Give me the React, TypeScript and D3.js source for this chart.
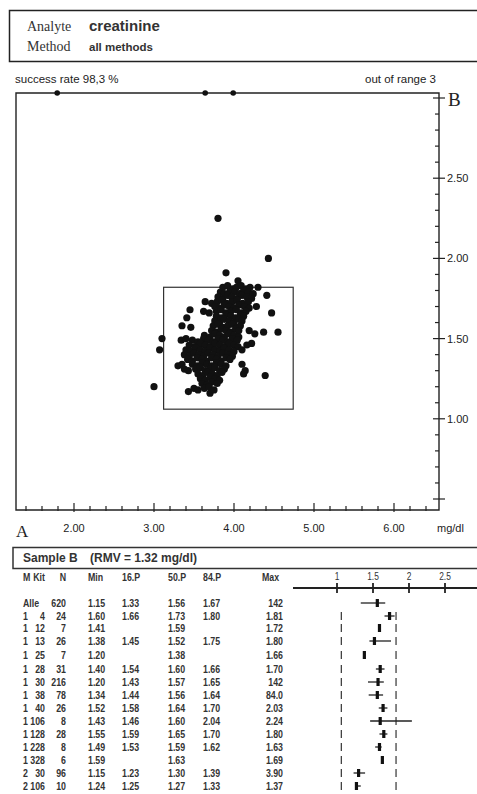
import React, { useEffect, useRef } from 'react';
import * as d3 from 'd3';

// out-of-range results (B above the plot), A values only
const outOfRangeA = [1.79, 3.64, 3.99];

// lab results: [sample A, sample B] in mg/dl
const resultsAB: [number, number][] = [
  [3.80, 2.25], [3.90, 1.91], [4.05, 1.86], [4.43, 2.00], [3.10, 1.50], [3.07, 1.43], [3.00, 1.20],
  [4.39, 1.27], [4.55, 1.54], [4.47, 1.66], [4.41, 1.77], [3.45, 1.68], [3.41, 1.63], [3.35, 1.58],
  [3.46, 1.57], [3.64, 1.73], [3.70, 1.16], [3.43, 1.17], [3.30, 1.33], [3.35, 1.34], [3.38, 1.31],
  [3.86, 1.82], [3.92, 1.83], [3.98, 1.81], [4.03, 1.82], [4.09, 1.83], [4.15, 1.81], [4.20, 1.82], [4.30, 1.82],
  [3.83, 1.79], [3.88, 1.78], [3.95, 1.80], [4.01, 1.79], [4.07, 1.78], [4.12, 1.80], [4.18, 1.79], [4.24, 1.78],
  [3.80, 1.76], [3.86, 1.75], [3.92, 1.77], [3.97, 1.76], [4.04, 1.75], [4.10, 1.77], [4.16, 1.76], [4.22, 1.75],
  [3.72, 1.72], [3.79, 1.73], [3.85, 1.74], [3.91, 1.72], [3.98, 1.73], [4.04, 1.74], [4.11, 1.72], [4.18, 1.73],
  [3.76, 1.70], [3.82, 1.69], [3.88, 1.71], [3.94, 1.70], [4.00, 1.69], [4.06, 1.71], [4.13, 1.70], [4.19, 1.69], [4.28, 1.70],
  [3.62, 1.67], [3.69, 1.66], [3.78, 1.67], [3.84, 1.68], [3.90, 1.66], [3.96, 1.67], [4.03, 1.68], [4.09, 1.66], [4.15, 1.67],
  [3.78, 1.64], [3.84, 1.63], [3.90, 1.65], [3.96, 1.64], [4.02, 1.63], [4.08, 1.65], [4.12, 1.64],
  [3.76, 1.61], [3.82, 1.60], [3.88, 1.62], [3.94, 1.61], [4.00, 1.60], [4.06, 1.62], [4.10, 1.61],
  [3.74, 1.58], [3.80, 1.59], [3.86, 1.57], [3.92, 1.58], [3.98, 1.59], [4.04, 1.57], [4.08, 1.58],
  [3.72, 1.55], [3.78, 1.54], [3.84, 1.56], [3.90, 1.55], [3.96, 1.54], [4.02, 1.56], [4.06, 1.55], [4.19, 1.55], [4.26, 1.53], [4.37, 1.54],
  [3.63, 1.52], [3.70, 1.51], [3.76, 1.53], [3.82, 1.52], [3.88, 1.51], [3.94, 1.53], [4.00, 1.52], [4.06, 1.51], [4.22, 1.47],
  [3.34, 1.49], [3.40, 1.50], [3.48, 1.49], [3.55, 1.48], [3.62, 1.50], [3.68, 1.49], [3.74, 1.48], [3.80, 1.50], [3.86, 1.49], [3.92, 1.48], [3.98, 1.50], [4.04, 1.49],
  [3.44, 1.46], [3.51, 1.45], [3.58, 1.47], [3.64, 1.46], [3.70, 1.45], [3.76, 1.47], [3.82, 1.46], [3.88, 1.45], [3.94, 1.47], [4.00, 1.46], [4.05, 1.45], [4.16, 1.46],
  [3.40, 1.43], [3.46, 1.42], [3.52, 1.44], [3.58, 1.43], [3.64, 1.42], [3.70, 1.44], [3.76, 1.43], [3.82, 1.42], [3.88, 1.44], [3.94, 1.43], [4.00, 1.42], [4.10, 1.43],
  [3.38, 1.40], [3.44, 1.39], [3.50, 1.41], [3.56, 1.40], [3.62, 1.39], [3.68, 1.41], [3.74, 1.40], [3.80, 1.39], [3.86, 1.41], [3.92, 1.40], [3.98, 1.39],
  [3.42, 1.37], [3.48, 1.36], [3.54, 1.38], [3.60, 1.37], [3.66, 1.36], [3.72, 1.38], [3.78, 1.37], [3.84, 1.36], [3.90, 1.38], [3.95, 1.37],
  [3.48, 1.34], [3.54, 1.33], [3.60, 1.35], [3.66, 1.34], [3.72, 1.33], [3.78, 1.35], [3.84, 1.34], [3.90, 1.33], [4.10, 1.34],
  [3.43, 1.30], [3.52, 1.31], [3.58, 1.32], [3.64, 1.30], [3.70, 1.31], [3.76, 1.32], [3.82, 1.30], [3.88, 1.31], [4.14, 1.30],
  [3.55, 1.28], [3.61, 1.27], [3.67, 1.29], [3.73, 1.28], [3.79, 1.27], [3.85, 1.29], [4.12, 1.28],
  [3.58, 1.25], [3.64, 1.24], [3.70, 1.26], [3.76, 1.25], [3.82, 1.24],
  [3.60, 1.22], [3.66, 1.21], [3.72, 1.23], [3.79, 1.22],
  [3.50, 1.19], [3.55, 1.18], [3.63, 1.19], [3.69, 1.20], [3.75, 1.18],
];

// target range box
const limitsA = [3.12, 4.74];
const limitsB = [1.06, 1.82];

// table for sample B
const methodCol = ['Alle', '1', '1', '1', '1', '1', '1', '1', '1', '1', '1', '1', '1', '2', '2'];
const kitCol = [null, 4, 12, 13, 25, 28, 30, 38, 40, 106, 128, 228, 328, 30, 106];
const nCol = [620, 24, 7, 26, 7, 31, 216, 78, 26, 8, 28, 8, 6, 96, 10];
const minCol = [1.15, 1.60, 1.41, 1.38, 1.20, 1.40, 1.20, 1.34, 1.52, 1.43, 1.55, 1.49, 1.59, 1.15, 1.24];
const p16Col = [1.33, 1.66, null, 1.45, null, 1.54, 1.43, 1.44, 1.58, 1.46, 1.59, 1.53, null, 1.23, 1.25];
const p50Col = [1.56, 1.73, 1.59, 1.52, 1.38, 1.60, 1.57, 1.56, 1.64, 1.60, 1.65, 1.59, 1.63, 1.30, 1.27];
const p84Col = [1.67, 1.80, null, 1.75, null, 1.66, 1.65, 1.64, 1.70, 2.04, 1.70, 1.62, null, 1.39, 1.33];
const maxCol = [142, 1.81, 1.72, 1.80, 1.66, 1.70, 142, 84.0, 2.03, 2.24, 1.80, 1.63, 1.69, 3.90, 1.37];
const forestTicks = [1, 1.5, 2, 2.5];

const SERIF = '"Liberation Serif", "Times New Roman", serif';
const SANS = '"Liberation Sans", Arial, sans-serif';

const fmt = (v: number) => (v >= 100 ? d3.format('.0f')(v) : v >= 10 ? d3.format('.1f')(v) : d3.format('.2f')(v));

export default function App() {
  const svgRef = useRef<SVGSVGElement>(null);

  useEffect(() => {
    const svg = d3.select(svgRef.current);
    svg.selectAll('*').remove();

    // header box
    svg.append('rect').attr('x', 9.5).attr('y', 10.5).attr('width', 480).attr('height', 51)
      .attr('fill', 'none').attr('stroke', '#222').attr('stroke-width', 1.5);
    svg.append('text').attr('x', 27).attr('y', 31).style('font-family', SERIF).style('font-size', '14px').attr('fill', '#333').text('Analyte');
    svg.append('text').attr('x', 27).attr('y', 51).style('font-family', SERIF).style('font-size', '14px').attr('fill', '#333').text('Method');
    svg.append('text').attr('x', 89).attr('y', 31).style('font-family', SANS).style('font-size', '15px').style('font-weight', 'bold').attr('fill', '#333').text('creatinine');
    svg.append('text').attr('x', 89).attr('y', 51).style('font-family', SANS).style('font-size', '11.5px').style('font-weight', 'bold').attr('fill', '#333').text('all methods');

    svg.append('text').attr('x', 15).attr('y', 83).style('font-family', SANS).style('font-size', '11.5px').attr('fill', '#222').text('success rate 98,3 %');
    svg.append('text').attr('x', 436).attr('y', 83).attr('text-anchor', 'end').style('font-family', SANS).style('font-size', '11.5px').attr('fill', '#222').text('out of range 3');

    // youden plot
    const left = 16, right = 439, top = 93, bottom = 510;
    const x = d3.scaleLinear().domain([2, 6]).range([74, 394]);
    const y = d3.scaleLinear().domain([0.5, 3]).range([499, 98]);

    const plot = svg.append('g');
    plot.append('path')
      .attr('d', `M${left},${top}H${right}V${bottom}H${left}Z`)
      .attr('fill', 'none').attr('stroke', '#222').attr('stroke-width', 1.4);

    // x ticks
    const xMinor = d3.range(1.4, 6.41, 0.2);
    xMinor.forEach((v) => {
      const major = Math.abs(v - Math.round(v)) < 0.01;
      plot.append('line').attr('x1', x(v)).attr('x2', x(v))
        .attr('y1', bottom - (major ? 7 : 4)).attr('y2', bottom + (major ? 2 : 1))
        .attr('stroke', '#222').attr('stroke-width', 1.2);
    });
    [2, 3, 4, 5, 6].forEach((v) => {
      plot.append('text').attr('x', x(v)).attr('y', 532).attr('text-anchor', 'middle')
        .style('font-family', SANS).style('font-size', '11px').attr('fill', '#222').text(d3.format('.2f')(v));
    });
    plot.append('text').attr('x', 16).attr('y', 537).style('font-family', SERIF).style('font-size', '17px').attr('fill', '#222').text('A');
    plot.append('text').attr('x', 437).attr('y', 532).style('font-family', SANS).style('font-size', '11px').attr('fill', '#222').text('mg/dl');

    // y ticks
    const yMinor = d3.range(0.5, 3.01, 0.1);
    yMinor.forEach((v) => {
      const major = Math.abs(v * 2 - Math.round(v * 2)) < 0.01;
      plot.append('line').attr('y1', y(v)).attr('y2', y(v))
        .attr('x1', right - (major ? 6 : 4)).attr('x2', right + (major ? 6 : 0))
        .attr('stroke', '#222').attr('stroke-width', 1.2);
    });
    [1, 1.5, 2, 2.5].forEach((v) => {
      plot.append('text').attr('x', 447).attr('y', y(v) + 4)
        .style('font-family', SANS).style('font-size', '11px').attr('fill', '#222').text(d3.format('.2f')(v));
    });
    plot.append('text').attr('x', 448).attr('y', y(3) + 8).style('font-family', SERIF).style('font-size', '19px').attr('fill', '#222').text('B');

    // limits box
    plot.append('rect')
      .attr('x', x(limitsA[0])).attr('y', y(limitsB[1]))
      .attr('width', x(limitsA[1]) - x(limitsA[0])).attr('height', y(limitsB[0]) - y(limitsB[1]))
      .attr('fill', 'none').attr('stroke', '#333').attr('stroke-width', 1.2);

    plot.append('g').selectAll('circle').data(resultsAB).enter().append('circle')
      .attr('cx', (d) => x(d[0])).attr('cy', (d) => y(d[1])).attr('r', 3.6).attr('fill', '#111');

    plot.append('g').selectAll('circle').data(outOfRangeA).enter().append('circle')
      .attr('cx', (d) => x(d)).attr('cy', top).attr('r', 2.8).attr('fill', '#111');

    // sample B table
    svg.append('rect').attr('x', 13).attr('y', 547.5).attr('width', 480).attr('height', 21)
      .attr('fill', 'none').attr('stroke', '#333').attr('stroke-width', 1.5);
    svg.append('text').attr('x', 23).attr('y', 562).style('font-family', SANS).style('font-size', '12px').style('font-weight', 'bold').attr('fill', '#333').text('Sample B');
    svg.append('text').attr('x', 90).attr('y', 562).style('font-family', SANS).style('font-size', '12px').style('font-weight', 'bold').attr('fill', '#333').text('(RMV = 1.32 mg/dl)');

    const tbl = svg.append('g').style('font-family', SANS).style('font-size', '11px').style('font-weight', 'bold').attr('fill', '#333');
    // narrow type: squeeze each text horizontally around its anchor
    const cell = (tx: number, ty: number, t: string, anchor = 'start') => {
      tbl.append('text').attr('transform', `translate(${tx},${ty}) scale(0.8,1)`)
        .attr('text-anchor', anchor).text(t);
    };
    const headY = 581;
    const heads: [string, number, string][] = [
      ['M', 23, 'start'], ['Kit', 45, 'end'], ['N', 66, 'end'], ['Min', 88, 'start'],
      ['16.P', 122, 'start'], ['50.P', 168, 'start'], ['84.P', 203, 'start'], ['Max', 262, 'start'],
    ];
    heads.forEach(([t, hx, anchor]) => cell(hx, headY, t, anchor));

    const rowY = [607, 620, 632, 645, 659, 673, 686, 699, 712, 725, 738, 751, 764, 777, 790];
    const fx = d3.scaleLinear().domain([1, 2.5]).range([337, 445]);

    methodCol.forEach((m, i) => {
      const ry = rowY[i];
      cell(23, ry, m);
      if (kitCol[i] !== null) cell(45, ry, String(kitCol[i]), 'end');
      cell(66, ry, String(nCol[i]), 'end');
      cell(88, ry, fmt(minCol[i]));
      if (p16Col[i] !== null) cell(122, ry, fmt(p16Col[i] as number));
      cell(168, ry, fmt(p50Col[i]));
      if (p84Col[i] !== null) cell(203, ry, fmt(p84Col[i] as number));
      cell(283, ry, fmt(maxCol[i]), 'end');
    });

    // forest plot
    const forest = svg.append('g');
    forest.append('line').attr('x1', 293).attr('x2', 477).attr('y1', 588).attr('y2', 588)
      .attr('stroke', '#222').attr('stroke-width', 1.8);
    forestTicks.forEach((v) => {
      forest.append('line').attr('x1', fx(v)).attr('x2', fx(v)).attr('y1', 583).attr('y2', 593)
        .attr('stroke', '#222').attr('stroke-width', 1.8);
      forest.append('text').attr('transform', `translate(${fx(v)},580) scale(0.8,1)`).attr('text-anchor', 'middle')
        .style('font-family', SANS).style('font-size', '10.5px').attr('fill', '#333').text(String(v));
    });

    methodCol.forEach((m, i) => {
      const cy = rowY[i] - 4;
      if (i > 0) {
        limitsB.forEach((l) => {
          forest.append('line').attr('x1', fx(l)).attr('x2', fx(l)).attr('y1', cy - 4).attr('y2', cy + 4)
            .attr('stroke', '#333').attr('stroke-width', 1.2);
        });
      }
      if (p16Col[i] !== null && p84Col[i] !== null) {
        forest.append('line').attr('x1', fx(p16Col[i] as number)).attr('x2', fx(p84Col[i] as number))
          .attr('y1', cy).attr('y2', cy).attr('stroke', '#222').attr('stroke-width', 1.3);
      }
      forest.append('rect').attr('x', fx(p50Col[i]) - 1.6).attr('y', cy - 4).attr('width', 3.2).attr('height', 8).attr('fill', '#111');
    });
  }, []);

  return (
    <svg ref={svgRef} width={477} height={794} style={{ position: 'absolute', left: 0, top: 0, background: '#fff' }} />
  );
}
